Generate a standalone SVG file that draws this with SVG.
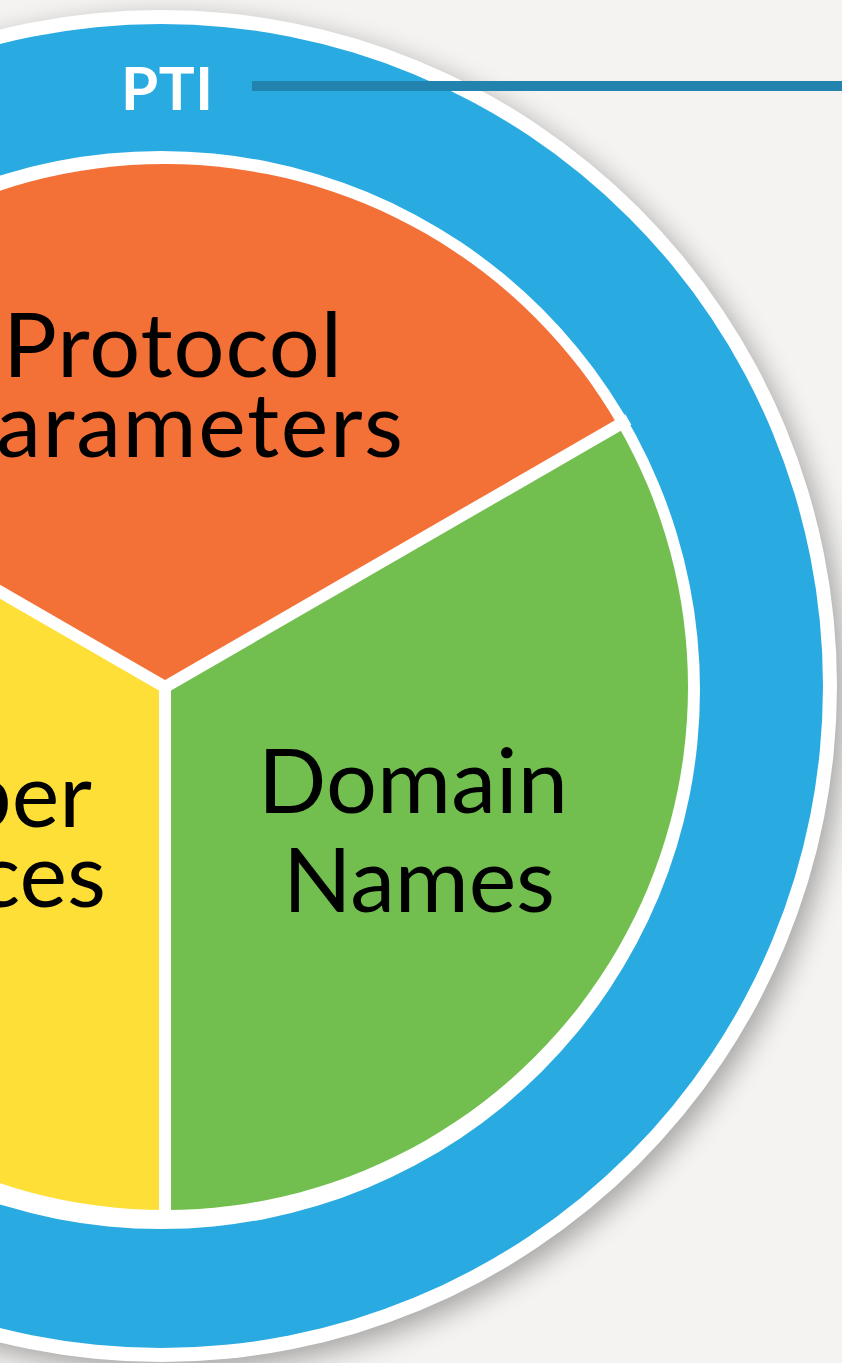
<svg xmlns="http://www.w3.org/2000/svg" width="842" height="1363" viewBox="0 0 842 1363">
  <defs>
    <filter id="shadow" x="-20%" y="-20%" width="140%" height="140%">
      <feGaussianBlur stdDeviation="14"/>
    </filter>
    <style>
      .lbl { font-family: Lato, "Source Sans Pro", "Noto Sans", sans-serif; font-size: 90px; fill: #000; }
      .pti { font-family: Lato, "Noto Sans", sans-serif; font-size: 60px; font-weight: bold; fill: #fff; }
      .sep { stroke: #fff; stroke-width: 12; fill: none; }
    </style>
  </defs>
  <rect width="842" height="1363" fill="#f4f3f1"/>

  <g id="outer-ring">
    <circle cx="168" cy="695" r="676" fill="#000" opacity="0.33" filter="url(#shadow)"/>
    <circle cx="161" cy="686" r="676" fill="#fff"/>
    <circle cx="161" cy="686" r="662" fill="#29aae1"/>
    <circle cx="161" cy="690" r="539" fill="#fff"/>
  </g>

  <g id="protocol-parameters">
    <path d="M165,687 L-287.93,425.5 A523,523 0 0 1 617.93,425.5 Z" fill="#f37037"/>
    <text class="lbl" x="3" y="377" textLength="339">Protocol</text>
    <text class="lbl" x="-58" y="457" textLength="461">Parameters</text>
  </g>

  <g id="domain-names">
    <path d="M165,687 L617.93,425.5 A523,523 0 0 1 165,1210 Z" fill="#72bf4f"/>
    <text class="lbl" x="258" y="813" textLength="310">Domain</text>
    <text class="lbl" x="283" y="912" textLength="272">Names</text>
  </g>

  <g id="number-resources">
    <path d="M165,687 L165,1210 A523,523 0 0 1 -287.93,425.5 Z" fill="#fddf37"/>
    <text class="lbl" x="92" y="827" text-anchor="end">Number</text>
    <text class="lbl" x="106" y="907" text-anchor="end">Resources</text>
  </g>

  <g id="connectors">
    <line class="sep" x1="165" y1="687" x2="628.3" y2="419.5"/>
    <line class="sep" x1="165" y1="687" x2="-298.3" y2="419.5"/>
    <line class="sep" x1="165" y1="687" x2="165" y2="1222"/>
    <rect x="252" y="81" width="590" height="10" fill="#2183ae"/>
  </g>

  <g id="pti">
    <text class="pti" x="121" y="110" textLength="92">PTI</text>
  </g>
</svg>
